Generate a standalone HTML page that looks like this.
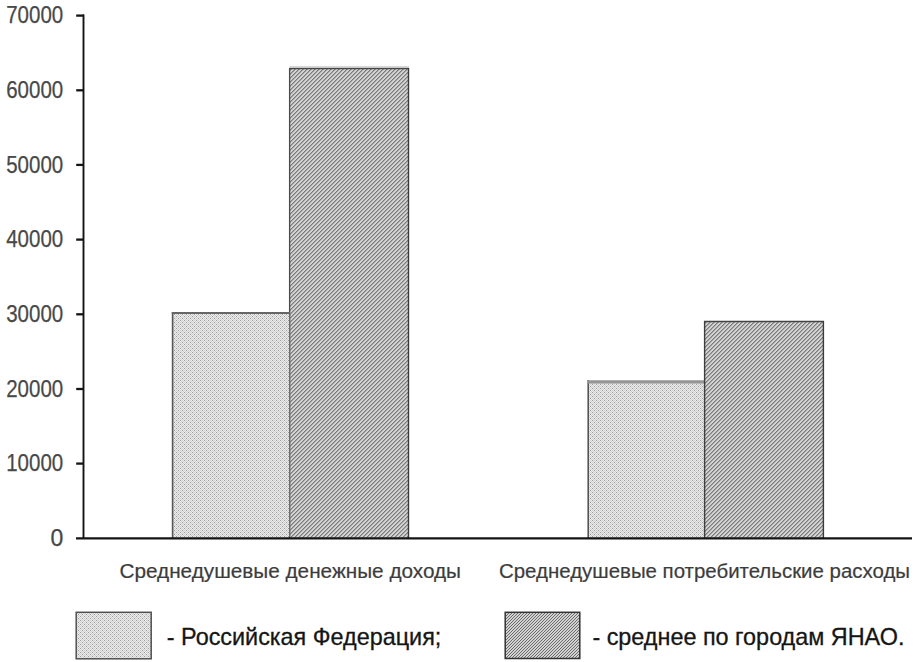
<!DOCTYPE html>
<html>
<head>
<meta charset="utf-8">
<style>
html,body{margin:0;padding:0;background:#fff;width:922px;height:662px;overflow:hidden;}
svg{display:block;font-family:"Liberation Sans",sans-serif;}
</style>
</head>
<body>
<svg width="922" height="662" viewBox="0 0 922 662">
<defs>
  <pattern id="lt" patternUnits="userSpaceOnUse" width="4" height="4" shape-rendering="crispEdges">
    <rect width="4" height="4" fill="#ececec"/>
    <rect x="0" y="0" width="1" height="1" fill="#999999"/>
    <rect x="2" y="0" width="1" height="1" fill="#cfcfcf"/>
    <rect x="1" y="1" width="1" height="1" fill="#cfcfcf"/>
    <rect x="3" y="1" width="1" height="1" fill="#cfcfcf"/>
    <rect x="0" y="2" width="1" height="1" fill="#cfcfcf"/>
    <rect x="2" y="2" width="1" height="1" fill="#999999"/>
    <rect x="1" y="3" width="1" height="1" fill="#cfcfcf"/>
    <rect x="3" y="3" width="1" height="1" fill="#cfcfcf"/>
  </pattern>
  <pattern id="dk" patternUnits="userSpaceOnUse" width="4" height="4" shape-rendering="crispEdges">
    <rect width="4" height="4" fill="#d3d3d3"/>
    <rect x="3" y="0" width="1" height="1" fill="#7c7c7c"/>
    <rect x="2" y="1" width="1" height="1" fill="#7c7c7c"/>
    <rect x="1" y="2" width="1" height="1" fill="#7c7c7c"/>
    <rect x="0" y="3" width="1" height="1" fill="#7c7c7c"/>
    <rect x="0" y="0" width="1" height="1" fill="#a4a4a4"/>
    <rect x="3" y="1" width="1" height="1" fill="#a4a4a4"/>
    <rect x="2" y="2" width="1" height="1" fill="#a4a4a4"/>
    <rect x="1" y="3" width="1" height="1" fill="#a4a4a4"/>
  </pattern>
  <pattern id="dk3" patternUnits="userSpaceOnUse" width="3" height="3" shape-rendering="crispEdges">
    <rect width="3" height="3" fill="#d2d2d2"/>
    <rect x="2" y="0" width="1" height="1" fill="#6a6a6a"/>
    <rect x="1" y="1" width="1" height="1" fill="#6a6a6a"/>
    <rect x="0" y="2" width="1" height="1" fill="#6a6a6a"/>
  </pattern>
</defs>

<!-- y labels -->
<g fill="#484848" stroke="#484848" stroke-width="0.25" font-size="23" text-anchor="end">
  <text x="63.2" y="546.1">0</text>
<text x="63.2" y="471.4" textLength="57" lengthAdjust="spacingAndGlyphs">10000</text>
<text x="63.2" y="396.8" textLength="57" lengthAdjust="spacingAndGlyphs">20000</text>
<text x="63.2" y="322.1" textLength="57" lengthAdjust="spacingAndGlyphs">30000</text>
<text x="63.2" y="247.4" textLength="57" lengthAdjust="spacingAndGlyphs">40000</text>
<text x="63.2" y="172.7" textLength="57" lengthAdjust="spacingAndGlyphs">50000</text>
<text x="63.2" y="98.1" textLength="57" lengthAdjust="spacingAndGlyphs">60000</text>
<text x="63.2" y="23.4" textLength="57" lengthAdjust="spacingAndGlyphs">70000</text>
</g>

<!-- bars -->
<g>
  <rect x="172" y="313" width="118" height="225" fill="url(#lt)"/>
  <rect x="289.5" y="68.2" width="119.2" height="469.8" fill="url(#dk)"/>
  <rect x="588" y="381" width="116.5" height="157" fill="url(#lt)"/>
  <rect x="704.5" y="321.3" width="119.3" height="216.7" fill="url(#dk)"/>
</g>
<g fill="none">
  <line x1="172.6" y1="312" x2="172.6" y2="538" stroke="#555" stroke-width="1.6"/>
  <line x1="171.8" y1="312.9" x2="290" y2="312.9" stroke="#666" stroke-width="2"/>
  <line x1="289.7" y1="312" x2="289.7" y2="538" stroke="#6a6a6a" stroke-width="1.4"/>
  <line x1="289.5" y1="68.6" x2="409" y2="68.6" stroke="#444" stroke-width="1.5"/>
  <line x1="289.5" y1="66.9" x2="409" y2="66.9" stroke="#c8c8c8" stroke-width="1.2"/>
  <line x1="289.6" y1="68" x2="289.6" y2="312" stroke="#4a4a4a" stroke-width="1.3"/>
  <line x1="408.5" y1="68" x2="408.5" y2="538" stroke="#3a3a3a" stroke-width="1.4"/>
  <line x1="588.2" y1="380" x2="588.2" y2="538" stroke="#555" stroke-width="1.6"/>
  <line x1="587.5" y1="381.8" x2="704.5" y2="381.8" stroke="#959595" stroke-width="3.2"/>
  <line x1="704.6" y1="321" x2="704.6" y2="538" stroke="#3e3e3e" stroke-width="1.4"/>
  <line x1="704" y1="321.5" x2="824" y2="321.5" stroke="#444" stroke-width="1.5"/>
  <line x1="823.4" y1="321" x2="823.4" y2="538" stroke="#3a3a3a" stroke-width="1.4"/>
</g>

<!-- axes -->
<g stroke="#141414" fill="none">
  <line x1="83.5" y1="14.5" x2="83.5" y2="538.3" stroke-width="1.9"/>
  <line x1="76" y1="538.3" x2="912" y2="538.3" stroke-width="2.3"/>
  <g stroke-width="2.3">
  <line x1="76.2" y1="463.6" x2="84" y2="463.6"/>
  <line x1="76.2" y1="389.0" x2="84" y2="389.0"/>
  <line x1="76.2" y1="314.3" x2="84" y2="314.3"/>
  <line x1="76.2" y1="239.6" x2="84" y2="239.6"/>
  <line x1="76.2" y1="164.9" x2="84" y2="164.9"/>
  <line x1="76.2" y1="90.3" x2="84" y2="90.3"/>
  <line x1="76.2" y1="15.6" x2="84" y2="15.6"/>
  </g>
</g>

<!-- category labels -->
<g fill="#3c3c3c" stroke="#3c3c3c" stroke-width="0.2" font-size="20.5">
  <text x="119.5" y="577.6" textLength="341.5" lengthAdjust="spacingAndGlyphs">Среднедушевые денежные доходы</text>
  <text x="499" y="577.6" textLength="411" lengthAdjust="spacingAndGlyphs">Среднедушевые потребительские расходы</text>
</g>

<!-- legend -->
<rect x="76.2" y="612.3" width="75" height="46.5" fill="url(#lt)" stroke="#505050" stroke-width="1.5"/>
<rect x="505.2" y="612.3" width="74.6" height="46.2" fill="url(#dk3)" stroke="#333" stroke-width="1.5"/>
<g fill="#151515" stroke="#151515" stroke-width="0.3" font-size="24">
  <text x="166.8" y="644.8" textLength="274.5" lengthAdjust="spacingAndGlyphs">- Российская Федерация;</text>
  <text x="592.4" y="644.8" textLength="312" lengthAdjust="spacingAndGlyphs">- среднее по городам ЯНАО.</text>
</g>
</svg>
</body>
</html>
